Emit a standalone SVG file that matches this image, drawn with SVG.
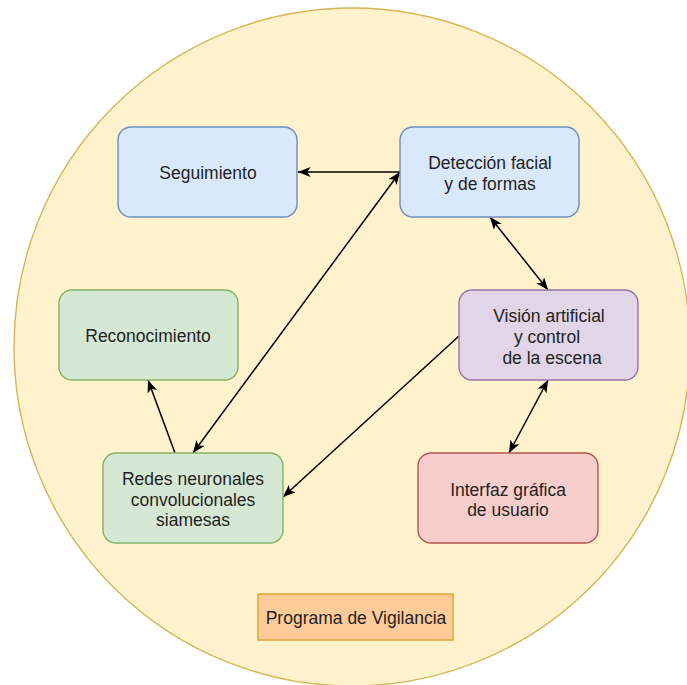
<svg xmlns="http://www.w3.org/2000/svg" width="687" height="685" viewBox="0 0 687 685">
<defs>
<style>
.t{font-family:"Liberation Sans",Arial,Helvetica,sans-serif;font-size:17.5px;fill:#1f1f1f;text-anchor:middle;dominant-baseline:central}
.blue{fill:#dae8fc;stroke:#6c8ebf;stroke-width:1.4}
.green{fill:#d5e8d4;stroke:#82b366;stroke-width:1.4}
.purple{fill:#e1d5e7;stroke:#9673a6;stroke-width:1.4}
.red{fill:#f8cecc;stroke:#b85450;stroke-width:1.4}
.e{fill:none;stroke:#000;stroke-width:1.5}
</style>
<marker id="ar" viewBox="0 0 10 8" refX="10" refY="4" markerWidth="12.5" markerHeight="10" markerUnits="userSpaceOnUse" orient="auto-start-reverse">
<path d="M0,0 L10,4 L0,8 L2.5,4 Z" fill="#000"/>
</marker>
</defs>
<rect width="687" height="685" fill="#fff"/>
<g id="circle"><ellipse cx="352" cy="347" rx="338" ry="339" fill="#fff2cc" stroke="#d6b656" stroke-width="1.4"/></g>
<g id="connectors">
<line class="e" x1="400" y1="172" x2="298" y2="172" marker-end="url(#ar)"/>
<line class="e" x1="193" y1="453" x2="400" y2="172" marker-start="url(#ar)" marker-end="url(#ar)"/>
<line class="e" x1="175" y1="453" x2="148" y2="380" marker-end="url(#ar)"/>
<line class="e" x1="490" y1="217" x2="548" y2="290" marker-start="url(#ar)" marker-end="url(#ar)"/>
<line class="e" x1="459" y1="336" x2="283" y2="497" marker-end="url(#ar)"/>
<line class="e" x1="548" y1="380" x2="509" y2="453" marker-start="url(#ar)" marker-end="url(#ar)"/>
</g>
<g id="seguimiento"><rect class="blue" x="118" y="127" width="179" height="90" rx="13"/><text class="t" x="208" y="173">Seguimiento</text></g>
<g id="deteccion"><rect class="blue" x="400" y="127" width="179" height="90" rx="13"/><text class="t" x="490" y="163">Detección facial</text><text class="t" x="490" y="184">y de formas</text></g>
<g id="vision"><rect class="purple" x="459" y="290" width="179" height="90" rx="13"/><text class="t" x="549" y="316">Visión artificial</text><text class="t" x="547" y="337">y control</text><text class="t" x="552" y="358">de la escena</text></g>
<g id="reconocimiento"><rect class="green" x="59" y="290" width="179" height="90" rx="13"/><text class="t" x="148" y="336">Reconocimiento</text></g>
<g id="redes"><rect class="green" x="103" y="453" width="180" height="90" rx="13"/><text class="t" x="193" y="479">Redes neuronales</text><text class="t" x="193" y="500">convolucionales</text><text class="t" x="193" y="520">siamesas</text></g>
<g id="interfaz"><rect class="red" x="418" y="453" width="180" height="90" rx="13"/><text class="t" x="508" y="490">Interfaz gráfica</text><text class="t" x="508" y="510">de usuario</text></g>
<g id="programa"><rect x="258" y="594" width="195" height="46" fill="#ffcc99" stroke="#e0a93a" stroke-width="1.6"/><text class="t" x="356" y="618">Programa de Vigilancia</text></g>
</svg>
